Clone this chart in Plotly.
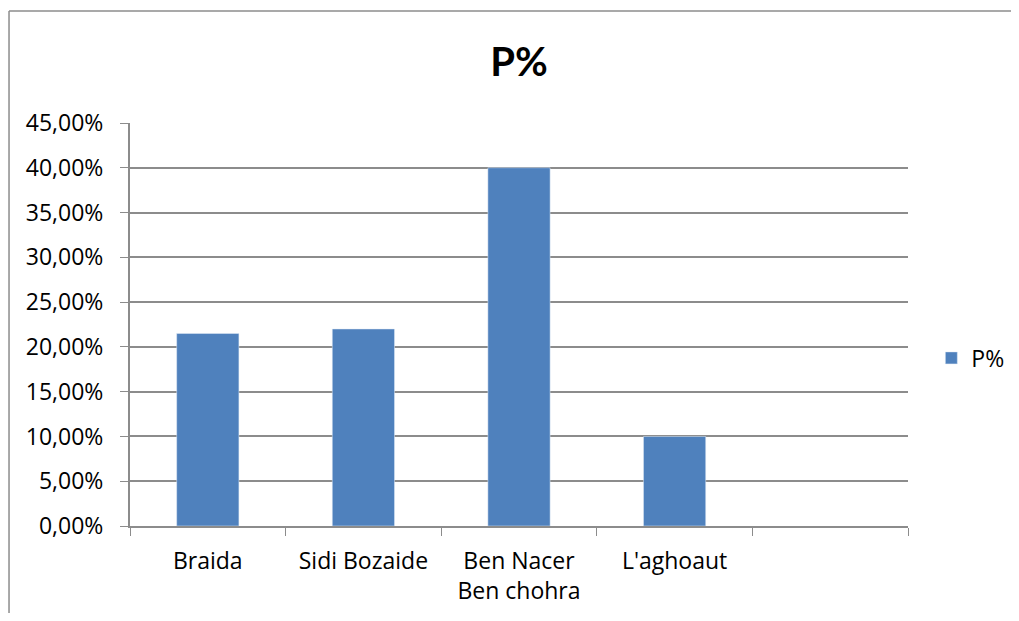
import plotly.graph_objects as go

categories = ["Braida", "Sidi Bozaide", "Ben Nacer<br>Ben chohra", "L'aghoaut", " "]
values = [0.215, 0.22, 0.40, 0.10, None]
y_ticks = [0, 0.05, 0.10, 0.15, 0.20, 0.25, 0.30, 0.35, 0.40, 0.45]

grey = "#8c8c8c"

fig = go.Figure(go.Bar(
    x=categories,
    y=values,
    name="P%",
    marker_color="#4F81BD",
    showlegend=True,
))

# page body has an 8px margin, so the figure is 16px smaller than the window
fig.update_layout(
    width=1003, height=605,
    margin=dict(l=122, r=103, t=115, b=87, autoexpand=False),
    paper_bgcolor="white",
    plot_bgcolor="white",
    separators=", ",
    bargap=0.6,
    font=dict(family="Open Sans, sans-serif", size=23, color="black"),
    title=dict(text="<b>P%</b>", xref="paper", x=0.5, xanchor="center", y=0.911, yanchor="middle",
               font=dict(family="Lato, sans-serif", size=40)),
    legend=dict(x=1.03, y=0.417, xanchor="left", yanchor="middle",
                font=dict(size=23), itemwidth=30),
    shapes=[
        dict(type="line", xref="paper", yref="paper", x0=-0.1555, x1=-0.1555,
             y0=1.278, y1=-0.3, line=dict(color=grey, width=1.5)),
        dict(type="line", xref="paper", yref="paper", x0=-0.1555, x1=1.2,
             y0=1.278, y1=1.278, line=dict(color=grey, width=1.5)),
    ],
)

fig.update_xaxes(
    type="category",
    tickson="boundaries",
    ticks="outside", ticklen=8, tickcolor=grey,
    ticklabelstandoff=13,
    showline=True, linecolor=grey, linewidth=2,
    showgrid=False,
    range=[-0.5, 4.5],
)
fig.update_yaxes(
    range=[0, 0.45],
    tickvals=y_ticks,
    tickformat=".2%",
    ticks="outside", ticklen=8, tickcolor=grey,
    ticklabelstandoff=12,
    showline=True, linecolor=grey, linewidth=2,
    showgrid=True, gridcolor=grey, gridwidth=1.5,
    zeroline=False,
)

fig.write_html("out.html")
